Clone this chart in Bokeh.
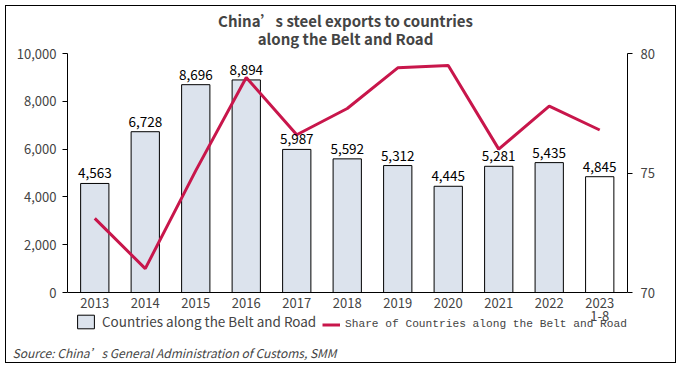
from bokeh.plotting import figure
from bokeh.models import (ColumnDataSource, Range1d, LinearAxis, FixedTicker, NumeralTickFormatter,
                          Title, Legend, LegendItem, Label)
from bokeh.embed import file_html
from bokeh.resources import INLINE
from bokeh.core.properties import value

years = ["2013", "2014", "2015", "2016", "2017", "2018", "2019", "2020", "2021", "2022", "2023\n1-8"]
exports = [4563, 6728, 8696, 8894, 5987, 5592, 5312, 4445, 5281, 5435, 4845]
share = [73.1, 71.0, 75.1, 79.0, 76.6, 77.7, 79.4, 79.5, 76.0, 77.8, 76.8]
bar_fill = ["#DCE3ED"] * 10 + ["#FFFFFF"]
y_ticks = [0, 2000, 4000, 6000, 8000, 10000]
share_ticks = [70, 75, 80]

FONT = "Noto Sans CJK SC"
RED = "#C8164B"
x = list(range(len(years)))
src = ColumnDataSource(dict(x=x, exports=exports, share=share, fill=bar_fill,
                            lbl=[f"{v:,}" for v in exports]))

W, H = 671, 358
# frame spans the full height except the source strip; axes are bounded to their value ranges
p = figure(width=W, height=H, output_backend="svg", toolbar_location=None,
           x_range=Range1d(-0.54, 10.55), y_range=Range1d(-2008, 11967),
           min_border_left=61, min_border_right=50, min_border_top=0, min_border_bottom=24)
p.styles = {"border": "1px solid #000", "margin": "5px 0 0 5px"}
p.xgrid.visible = False
p.ygrid.visible = False
p.outline_line_color = None
p.background_fill_color = "white"
p.border_fill_color = "white"

bars = p.vbar(x="x", top="exports", bottom=0, width=0.56, source=src, fill_color="fill",
              line_color="black", line_width=1)
p.extra_y_ranges = {"share": Range1d(67.992, 81.967)}
line = p.line(x="x", y="share", source=src, y_range_name="share", line_color=RED,
              line_width=3)
p.text(x="x", y="exports", text="lbl", source=src, text_align="center", text_baseline="bottom",
       y_offset=-5, text_font=value(FONT), text_font_size="13.5px", text_color="#000")

# x axis pinned at y = 0
xa = p.xaxis[0]
xa.fixed_location = 0
xa.ticker = FixedTicker(ticks=x)
xa.major_label_overrides = {i: years[i] for i in x}
xa.major_tick_line_color = None
xa.major_tick_out = 0
xa.major_tick_in = 0
xa.minor_tick_line_color = None
xa.major_label_text_font = FONT
xa.major_label_text_font_size = "13px"
xa.major_label_text_line_height = 0.7
xa.major_label_standoff = 0
xa.axis_line_color = "black"

ya = p.yaxis[0]
ya.ticker = FixedTicker(ticks=y_ticks)
ya.bounds = (y_ticks[0], y_ticks[-1])
ya.formatter = NumeralTickFormatter(format="0,0")
ya.minor_tick_line_color = None
ya.major_tick_out = 5
ya.major_tick_in = 0
ya.major_label_text_font = FONT
ya.major_label_text_font_size = "13px"
ya.major_label_standoff = 6

ra = LinearAxis(y_range_name="share", ticker=FixedTicker(ticks=share_ticks),
                bounds=(share_ticks[0], share_ticks[-1]))
ra.minor_tick_line_color = None
ra.major_tick_out = 5
ra.major_tick_in = 0
ra.major_label_text_font = FONT
ra.major_label_text_font_size = "13px"
ra.major_label_standoff = 8
p.add_layout(ra, "right")

# title (screen units from the frame's bottom-left)
p.add_layout(Label(x=278, y=320, x_units="screen", y_units="screen",
                   text="China’s steel exports to countries", text_align="center",
                   text_baseline="middle", text_font=FONT, text_font_style="bold",
                   text_font_size="15px"))
p.add_layout(Label(x=278, y=302, x_units="screen", y_units="screen",
                   text="along the Belt and Road", text_align="center",
                   text_baseline="middle", text_font=FONT, text_font_style="bold",
                   text_font_size="15px"))

# legends inside the extended frame
leg1 = Legend(items=[LegendItem(label="Countries along the Belt and Road", renderers=[bars])],
              location=(8, 9), orientation="horizontal", border_line_color=None,
              background_fill_alpha=0, padding=0, margin=0, glyph_width=21, glyph_height=17,
              label_text_font=FONT, label_text_font_size="13.5px", label_standoff=6)
leg2 = Legend(items=[LegendItem(label="Share of Countries along the Belt and Road", renderers=[line])],
              location=(255, 7.5), orientation="horizontal", border_line_color=None,
              background_fill_alpha=0, padding=0, margin=0, glyph_width=18, glyph_height=17,
              label_text_font="Liberation Mono", label_text_font_size="11.2px", label_standoff=5)
p.add_layout(leg1)
p.add_layout(leg2)

# source note
p.add_layout(Title(text="Source: China’s General Administration of Customs, SMM", align="left",
                   text_font=FONT, text_font_style="italic", text_font_size="12px",
                   standoff=3, offset=-55), "below")

open("out.html", "w").write(file_html(p, INLINE))
